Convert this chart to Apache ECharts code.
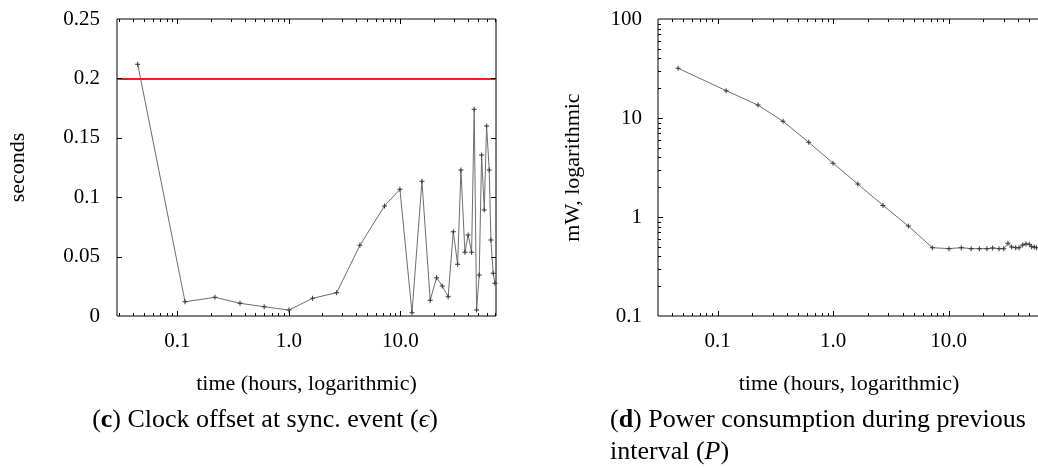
<!DOCTYPE html>
<html>
<head>
<meta charset="utf-8">
<script src="https://cdn.jsdelivr.net/npm/echarts@6/dist/echarts.min.js"></script>
<style>
  html, body { margin: 0; padding: 0; background: #fff; }
  #chart { width: 1038px; height: 468px; }
</style>
</head>
<body>
<div id="chart"></div>
<script>
// (c) clock offset at sync. event
const clockTime = [0.044, 0.117, 0.217, 0.364, 0.60, 1.0, 1.63, 2.68, 4.33, 7.2, 9.9, 12.7, 15.6, 18.5, 21.1, 23.7, 26.8,
  29.8, 32.6, 34.9, 37.9, 40.5, 43.5, 45.9, 48.2, 50.9, 53.5, 56.5, 59.3, 62.6, 64.8, 68.0, 70.4];
const clockOffset = [0.212, 0.012, 0.0157, 0.0107, 0.0078, 0.005, 0.0149, 0.0196, 0.0595, 0.0926, 0.1066, 0.0028, 0.1134,
  0.0132, 0.0323, 0.0253, 0.0163, 0.071, 0.0435, 0.1229, 0.0536, 0.0682, 0.0536, 0.174, 0.005, 0.0345, 0.1355, 0.0892,
  0.160, 0.1229, 0.064, 0.036, 0.0275];
const offsetLimit = 0.2;

// (d) power consumption during previous interval
const powerTime = [0.0455, 0.1186, 0.224, 0.369, 0.616, 1.0, 1.64, 2.71, 4.49, 7.24, 10.1, 12.9, 15.7, 18.5, 21.5, 24.1,
  27.4, 30.1, 32.7, 35.2, 38.2, 40.8, 43.9, 46.9, 50.1, 52.5, 55.3, 58.0];
const powerMw = [31.8, 18.9, 13.5, 9.26, 5.68, 3.5, 2.15, 1.31, 0.81, 0.49, 0.479, 0.49, 0.479, 0.479, 0.479, 0.486,
  0.479, 0.479, 0.542, 0.498, 0.49, 0.49, 0.521, 0.534, 0.53, 0.5, 0.498, 0.49];

// tick labels
const timeTicks = [0.1, 1, 10];
const timeTickLabels = ['0.1', '1.0', '10.0'];
const offsetTicks = [0, 0.05, 0.1, 0.15, 0.2, 0.25];
const powerTicks = [0.1, 1, 10, 100];
const powerTickLabels = ['0.1', '1', '10', '100'];

const FONT = 'Liberation Serif';
const PLUS = 'path://M2,0H3V2H5V3H3V5H2V3H0V2H2Z';

// minor ticks 2..9 of each decade inside [lo, hi]
function logMinor(lo, hi) {
  const out = [];
  for (let e = -3; e <= 3; e++) {
    for (let m = 2; m <= 9; m++) {
      const v = m * Math.pow(10, e);
      if (v > lo && v < hi) out.push(v);
    }
  }
  return out;
}

function logLabel(ticks, labels) {
  return v => {
    const i = ticks.findIndex(t => Math.abs(Math.log10(v) - Math.log10(t)) < 1e-6);
    return i < 0 ? '' : labels[i];
  };
}

// inward gnuplot-style ticks, mirrored on the opposite side of the box
function tickSeries(idx, dir, values, other, len) {
  return {
    type: 'custom', xAxisIndex: idx, yAxisIndex: idx, silent: true, clip: false, z: 5,
    data: values.map(v => dir === 'x' ? [v, other] : [other, v]),
    renderItem: (params, api) => {
      const cs = params.coordSys;
      const p = api.coord([api.value(0), api.value(1)]);
      const style = { stroke: '#000', lineWidth: 1 };
      if (dir === 'x') {
        const x = Math.round(p[0]) + 0.5;
        const b = cs.y + cs.height;
        return { type: 'group', children: [
          { type: 'line', shape: { x1: x, y1: b, x2: x, y2: b - len }, style },
          { type: 'line', shape: { x1: x, y1: cs.y, x2: x, y2: cs.y + len }, style }
        ] };
      }
      const y = Math.round(p[1]) + 0.5;
      const r = cs.x + cs.width;
      return { type: 'group', children: [
        { type: 'line', shape: { x1: cs.x, y1: y, x2: cs.x + len, y2: y }, style },
        { type: 'line', shape: { x1: r, y1: y, x2: r - len, y2: y }, style }
      ] };
    }
  };
}

const clockMin = 0.0287, clockMax = 72;
const powerMin = 0.0305, powerMax = 72.7;

const labelStyle = { fontFamily: FONT, fontSize: 21, color: '#000' };
const nameStyle = { fontFamily: FONT, fontSize: 22, color: '#000' };

const chart = echarts.init(document.getElementById('chart'));
chart.setOption({
  animation: false,
  backgroundColor: '#fff',
  grid: [
    { left: 117, top: 19, width: 379, height: 297, show: true, borderColor: '#000', borderWidth: 1,
      outerBoundsMode: 'none', containLabel: false },
    { left: 658, top: 19, width: 390, height: 297, show: true, borderColor: '#000', borderWidth: 1,
      outerBoundsMode: 'none', containLabel: false }
  ],
  xAxis: [
    {
      type: 'log', gridIndex: 0, min: clockMin, max: clockMax,
      axisLine: { show: false }, axisTick: { show: false }, splitLine: { show: false },
      axisLabel: Object.assign({ margin: 15, formatter: logLabel(timeTicks, timeTickLabels) }, labelStyle),
      name: 'time (hours, logarithmic)', nameLocation: 'middle', nameGap: 57, nameTextStyle: nameStyle
    },
    {
      type: 'log', gridIndex: 1, min: powerMin, max: powerMax,
      axisLine: { show: false }, axisTick: { show: false }, splitLine: { show: false },
      axisLabel: Object.assign({ margin: 15, formatter: logLabel(timeTicks, timeTickLabels) }, labelStyle),
      name: 'time (hours, logarithmic)', nameLocation: 'middle', nameGap: 57,
      nameTextStyle: Object.assign({ padding: [0, 8, 0, 0] }, nameStyle)
    }
  ],
  yAxis: [
    {
      type: 'value', gridIndex: 0, min: 0, max: 0.25, interval: 0.05,
      axisLine: { show: false }, axisTick: { show: false }, splitLine: { show: false },
      axisLabel: Object.assign({ margin: 17 }, labelStyle),
      name: 'seconds', nameLocation: 'middle', nameGap: 88, nameTextStyle: nameStyle
    },
    {
      type: 'log', gridIndex: 1, min: 0.1, max: 100,
      axisLine: { show: false }, axisTick: { show: false }, splitLine: { show: false },
      axisLabel: Object.assign({ margin: 16, formatter: logLabel(powerTicks, powerTickLabels) }, labelStyle),
      name: 'mW, logarithmic', nameLocation: 'middle', nameGap: 74, nameTextStyle: nameStyle
    }
  ],
  series: [
    {
      type: 'line', xAxisIndex: 0, yAxisIndex: 0, z: 3,
      data: clockTime.map((t, i) => [t, clockOffset[i]]),
      symbol: PLUS, symbolSize: 5, showSymbol: true,
      lineStyle: { color: '#6e6e6e', width: 1 }, itemStyle: { color: '#333' },
      markLine: {
        silent: true, symbol: 'none', animation: false,
        label: { show: false },
        lineStyle: { color: '#ff1a1a', width: 2, type: 'solid' },
        data: [{ yAxis: offsetLimit }]
      }
    },
    {
      type: 'line', xAxisIndex: 1, yAxisIndex: 1, z: 3,
      data: powerTime.map((t, i) => [t, powerMw[i]]),
      symbol: PLUS, symbolSize: 5, showSymbol: true,
      lineStyle: { color: '#6e6e6e', width: 1 }, itemStyle: { color: '#333' }
    },
    tickSeries(0, 'x', timeTicks, 0.1, 5),
    tickSeries(0, 'x', logMinor(clockMin, clockMax), 0.1, 3),
    tickSeries(0, 'y', offsetTicks.slice(1, -1), 1, 5),
    tickSeries(1, 'x', timeTicks, 1, 5),
    tickSeries(1, 'x', logMinor(powerMin, powerMax), 1, 3),
    tickSeries(1, 'y', powerTicks.slice(1, -1), 1, 5),
    tickSeries(1, 'y', logMinor(0.1, 100), 1, 3)
  ],
  graphic: [
    {
      type: 'text', x: 265, y: 420,
      style: {
        text: '{n|(}{b|c}{n|) Clock offset at sync. event (}{i|\u03f5}{n|)}',
        align: 'center', verticalAlign: 'middle',
        rich: {
          n: { fontFamily: FONT, fontSize: 26, fill: '#000' },
          b: { fontFamily: FONT, fontSize: 26, fontWeight: 'bold', fill: '#000' },
          i: { fontFamily: FONT, fontSize: 26, fontStyle: 'italic', fill: '#000' }
        }
      }
    },
    {
      type: 'text', x: 610, y: 420,
      style: {
        text: '{n|(}{b|d}{n|) Power consumption during previous}',
        align: 'left', verticalAlign: 'middle',
        rich: {
          n: { fontFamily: FONT, fontSize: 26, fill: '#000' },
          b: { fontFamily: FONT, fontSize: 26, fontWeight: 'bold', fill: '#000' }
        }
      }
    },
    {
      type: 'text', x: 610, y: 452,
      style: {
        text: '{n|interval (}{i|P}{n|)}',
        align: 'left', verticalAlign: 'middle',
        rich: {
          n: { fontFamily: FONT, fontSize: 26, fill: '#000' },
          i: { fontFamily: FONT, fontSize: 26, fontStyle: 'italic', fill: '#000' }
        }
      }
    }
  ]
});
</script>
</body>
</html>
